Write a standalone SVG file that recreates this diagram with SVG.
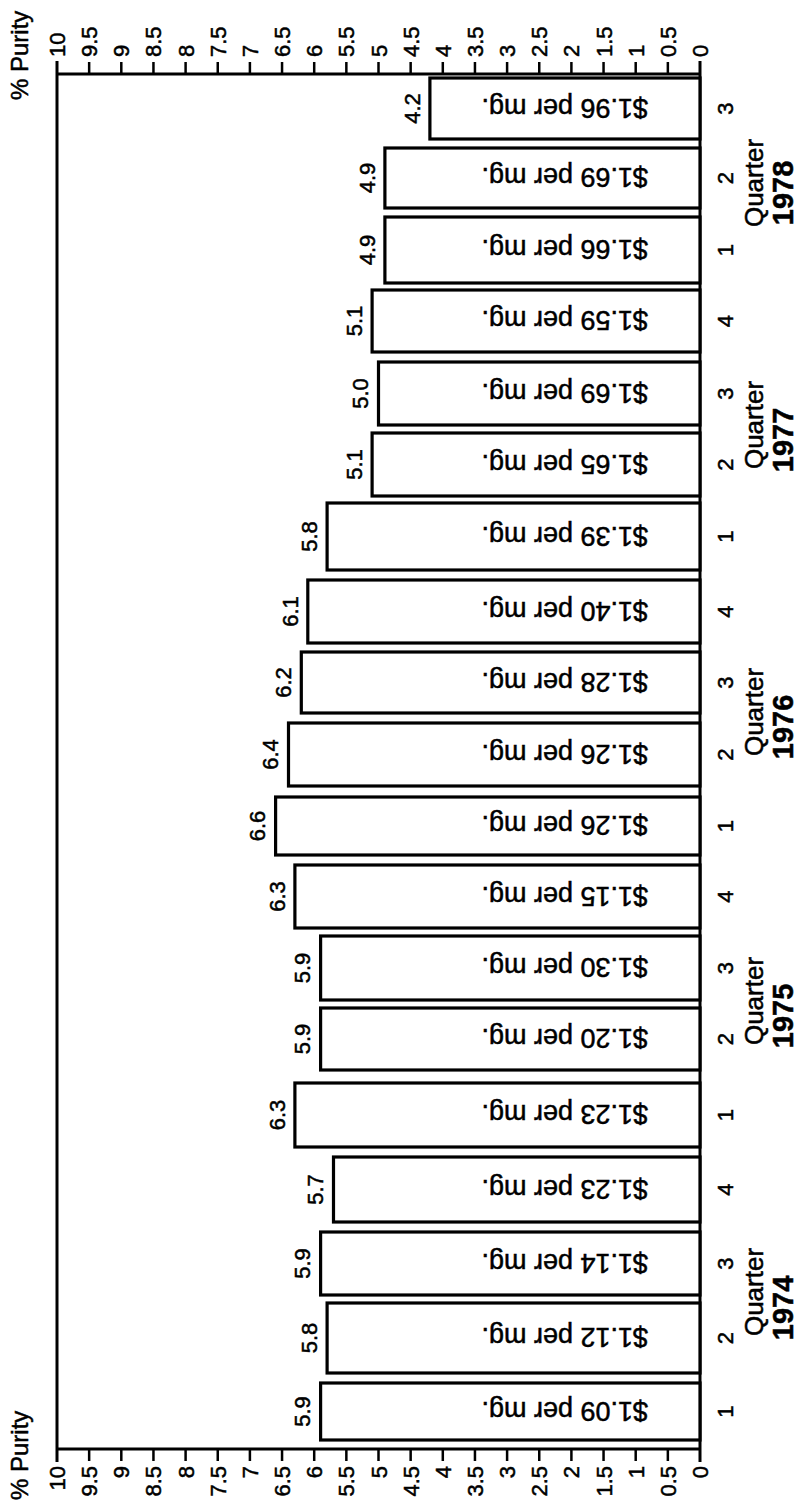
<svg xmlns="http://www.w3.org/2000/svg" width="804" height="1507" viewBox="0 0 804 1507">
<style>
.ax{stroke:#000;stroke-width:3;fill:none}
.tk{stroke:#000;stroke-width:2.5}
.bar{fill:#fff;stroke:#000;stroke-width:3.2}
text{font-family:"Liberation Sans",Arial,Helvetica,sans-serif;fill:#000;stroke:#000;stroke-width:0.5}
.tl{font-size:22px}
.vl{font-size:22px;text-anchor:middle}
.ql{font-size:22px;text-anchor:middle}
.pl{font-size:27px}
.qt{font-size:26px;text-anchor:middle}
.yr{font-size:29px;font-weight:bold;text-anchor:middle}
.pu{font-size:24px}
</style>
<rect width="804" height="1507" fill="#fff"/>
<g id="axes">
<line class="ax" x1="57" y1="74" x2="700" y2="74"/>
<line class="ax" x1="57" y1="1449" x2="700" y2="1449"/>
<line class="ax" x1="57" y1="61" x2="57" y2="1462"/>
<line class="ax" x1="700" y1="61" x2="700" y2="1462"/>
<g id="ticks">
<line class="tk" x1="89.15" y1="62" x2="89.15" y2="74"/><line class="tk" x1="121.3" y1="62" x2="121.3" y2="74"/><line class="tk" x1="153.45" y1="62" x2="153.45" y2="74"/><line class="tk" x1="185.6" y1="62" x2="185.6" y2="74"/><line class="tk" x1="217.75" y1="62" x2="217.75" y2="74"/><line class="tk" x1="249.9" y1="62" x2="249.9" y2="74"/><line class="tk" x1="282.05" y1="62" x2="282.05" y2="74"/><line class="tk" x1="314.2" y1="62" x2="314.2" y2="74"/><line class="tk" x1="346.35" y1="62" x2="346.35" y2="74"/><line class="tk" x1="378.5" y1="62" x2="378.5" y2="74"/><line class="tk" x1="410.65" y1="62" x2="410.65" y2="74"/><line class="tk" x1="442.8" y1="62" x2="442.8" y2="74"/><line class="tk" x1="474.95" y1="62" x2="474.95" y2="74"/><line class="tk" x1="507.1" y1="62" x2="507.1" y2="74"/><line class="tk" x1="539.25" y1="62" x2="539.25" y2="74"/><line class="tk" x1="571.4" y1="62" x2="571.4" y2="74"/><line class="tk" x1="603.55" y1="62" x2="603.55" y2="74"/><line class="tk" x1="635.7" y1="62" x2="635.7" y2="74"/><line class="tk" x1="667.85" y1="62" x2="667.85" y2="74"/>
<line class="tk" x1="89.15" y1="1449" x2="89.15" y2="1461"/><line class="tk" x1="121.3" y1="1449" x2="121.3" y2="1461"/><line class="tk" x1="153.45" y1="1449" x2="153.45" y2="1461"/><line class="tk" x1="185.6" y1="1449" x2="185.6" y2="1461"/><line class="tk" x1="217.75" y1="1449" x2="217.75" y2="1461"/><line class="tk" x1="249.9" y1="1449" x2="249.9" y2="1461"/><line class="tk" x1="282.05" y1="1449" x2="282.05" y2="1461"/><line class="tk" x1="314.2" y1="1449" x2="314.2" y2="1461"/><line class="tk" x1="346.35" y1="1449" x2="346.35" y2="1461"/><line class="tk" x1="378.5" y1="1449" x2="378.5" y2="1461"/><line class="tk" x1="410.65" y1="1449" x2="410.65" y2="1461"/><line class="tk" x1="442.8" y1="1449" x2="442.8" y2="1461"/><line class="tk" x1="474.95" y1="1449" x2="474.95" y2="1461"/><line class="tk" x1="507.1" y1="1449" x2="507.1" y2="1461"/><line class="tk" x1="539.25" y1="1449" x2="539.25" y2="1461"/><line class="tk" x1="571.4" y1="1449" x2="571.4" y2="1461"/><line class="tk" x1="603.55" y1="1449" x2="603.55" y2="1461"/><line class="tk" x1="635.7" y1="1449" x2="635.7" y2="1461"/><line class="tk" x1="667.85" y1="1449" x2="667.85" y2="1461"/>
</g>
<g id="top-labels" class="tl">
<text transform="translate(65,57) rotate(-90)">10</text>
<text transform="translate(97.15,57) rotate(-90)">9.5</text>
<text transform="translate(129.3,57) rotate(-90)">9</text>
<text transform="translate(161.45,57) rotate(-90)">8.5</text>
<text transform="translate(193.6,57) rotate(-90)">8</text>
<text transform="translate(225.75,57) rotate(-90)">7.5</text>
<text transform="translate(257.9,57) rotate(-90)">7</text>
<text transform="translate(290.05,57) rotate(-90)">6.5</text>
<text transform="translate(322.2,57) rotate(-90)">6</text>
<text transform="translate(354.35,57) rotate(-90)">5.5</text>
<text transform="translate(386.5,57) rotate(-90)">5</text>
<text transform="translate(418.65,57) rotate(-90)">4.5</text>
<text transform="translate(450.8,57) rotate(-90)">4</text>
<text transform="translate(482.95,57) rotate(-90)">3.5</text>
<text transform="translate(515.1,57) rotate(-90)">3</text>
<text transform="translate(547.25,57) rotate(-90)">2.5</text>
<text transform="translate(579.4,57) rotate(-90)">2</text>
<text transform="translate(611.55,57) rotate(-90)">1.5</text>
<text transform="translate(643.7,57) rotate(-90)">1</text>
<text transform="translate(675.85,57) rotate(-90)">0.5</text>
<text transform="translate(708,57) rotate(-90)">0</text>
</g>
<g id="bottom-labels" class="tl" text-anchor="end">
<text transform="translate(65,1466) rotate(-90)">10</text>
<text transform="translate(97.15,1466) rotate(-90)">9.5</text>
<text transform="translate(129.3,1466) rotate(-90)">9</text>
<text transform="translate(161.45,1466) rotate(-90)">8.5</text>
<text transform="translate(193.6,1466) rotate(-90)">8</text>
<text transform="translate(225.75,1466) rotate(-90)">7.5</text>
<text transform="translate(257.9,1466) rotate(-90)">7</text>
<text transform="translate(290.05,1466) rotate(-90)">6.5</text>
<text transform="translate(322.2,1466) rotate(-90)">6</text>
<text transform="translate(354.35,1466) rotate(-90)">5.5</text>
<text transform="translate(386.5,1466) rotate(-90)">5</text>
<text transform="translate(418.65,1466) rotate(-90)">4.5</text>
<text transform="translate(450.8,1466) rotate(-90)">4</text>
<text transform="translate(482.95,1466) rotate(-90)">3.5</text>
<text transform="translate(515.1,1466) rotate(-90)">3</text>
<text transform="translate(547.25,1466) rotate(-90)">2.5</text>
<text transform="translate(579.4,1466) rotate(-90)">2</text>
<text transform="translate(611.55,1466) rotate(-90)">1.5</text>
<text transform="translate(643.7,1466) rotate(-90)">1</text>
<text transform="translate(675.85,1466) rotate(-90)">0.5</text>
<text transform="translate(708,1466) rotate(-90)">0</text>
</g>
<text class="pu" transform="translate(28,100) rotate(-90)">% Purity</text>
<text class="pu" transform="translate(28,1500) rotate(-90)">% Purity</text>
</g>
<g id="bars">
<g id="b1974q1"><rect class="bar" x="320.6" y="1383" width="379.4" height="57"/><text class="vl" transform="translate(310,1411.5) rotate(-90)">5.9</text><text class="pl" transform="translate(648,1401.5) rotate(180)">$1.09 per mg.</text><text class="ql" transform="translate(733,1411.5) rotate(-90)">1</text></g>
<g id="b1974q2"><rect class="bar" x="327.1" y="1303" width="372.9" height="70"/><text class="vl" transform="translate(316.5,1338) rotate(-90)">5.8</text><text class="pl" transform="translate(648,1328) rotate(180)">$1.12 per mg.</text><text class="ql" transform="translate(733,1338) rotate(-90)">2</text></g>
<g id="b1974q3"><rect class="bar" x="320.6" y="1232" width="379.4" height="63"/><text class="vl" transform="translate(310,1263.5) rotate(-90)">5.9</text><text class="pl" transform="translate(648,1253.5) rotate(180)">$1.14 per mg.</text><text class="ql" transform="translate(733,1263.5) rotate(-90)">3</text></g>
<g id="b1974q4"><rect class="bar" x="333.5" y="1157" width="366.5" height="65"/><text class="vl" transform="translate(323,1189.5) rotate(-90)">5.7</text><text class="pl" transform="translate(648,1179.5) rotate(180)">$1.23 per mg.</text><text class="ql" transform="translate(733,1189.5) rotate(-90)">4</text></g>
<g id="b1975q1"><rect class="bar" x="294.9" y="1083" width="405.1" height="64"/><text class="vl" transform="translate(284.5,1115) rotate(-90)">6.3</text><text class="pl" transform="translate(648,1105) rotate(180)">$1.23 per mg.</text><text class="ql" transform="translate(733,1115) rotate(-90)">1</text></g>
<g id="b1975q2"><rect class="bar" x="320.6" y="1008" width="379.4" height="62"/><text class="vl" transform="translate(310,1039) rotate(-90)">5.9</text><text class="pl" transform="translate(648,1029) rotate(180)">$1.20 per mg.</text><text class="ql" transform="translate(733,1039) rotate(-90)">2</text></g>
<g id="b1975q3"><rect class="bar" x="320.6" y="936" width="379.4" height="64"/><text class="vl" transform="translate(310,968) rotate(-90)">5.9</text><text class="pl" transform="translate(648,958) rotate(180)">$1.30 per mg.</text><text class="ql" transform="translate(733,968) rotate(-90)">3</text></g>
<g id="b1975q4"><rect class="bar" x="294.9" y="865" width="405.1" height="63"/><text class="vl" transform="translate(284.5,896.5) rotate(-90)">6.3</text><text class="pl" transform="translate(648,886.5) rotate(180)">$1.15 per mg.</text><text class="ql" transform="translate(733,896.5) rotate(-90)">4</text></g>
<g id="b1976q1"><rect class="bar" x="275.6" y="797" width="424.4" height="58"/><text class="vl" transform="translate(265,826) rotate(-90)">6.6</text><text class="pl" transform="translate(648,816) rotate(180)">$1.26 per mg.</text><text class="ql" transform="translate(733,826) rotate(-90)">1</text></g>
<g id="b1976q2"><rect class="bar" x="288.5" y="723" width="411.5" height="63"/><text class="vl" transform="translate(278,754.5) rotate(-90)">6.4</text><text class="pl" transform="translate(648,744.5) rotate(180)">$1.26 per mg.</text><text class="ql" transform="translate(733,754.5) rotate(-90)">2</text></g>
<g id="b1976q3"><rect class="bar" x="301.3" y="652" width="398.7" height="61"/><text class="vl" transform="translate(291,682.5) rotate(-90)">6.2</text><text class="pl" transform="translate(648,672.5) rotate(180)">$1.28 per mg.</text><text class="ql" transform="translate(733,682.5) rotate(-90)">3</text></g>
<g id="b1976q4"><rect class="bar" x="307.8" y="580" width="392.2" height="63"/><text class="vl" transform="translate(297.5,611.5) rotate(-90)">6.1</text><text class="pl" transform="translate(648,601.5) rotate(180)">$1.40 per mg.</text><text class="ql" transform="translate(733,611.5) rotate(-90)">4</text></g>
<g id="b1977q1"><rect class="bar" x="327.1" y="503" width="372.9" height="67"/><text class="vl" transform="translate(316.5,536.5) rotate(-90)">5.8</text><text class="pl" transform="translate(648,526.5) rotate(180)">$1.39 per mg.</text><text class="ql" transform="translate(733,536.5) rotate(-90)">1</text></g>
<g id="b1977q2"><rect class="bar" x="372.1" y="433" width="327.9" height="63"/><text class="vl" transform="translate(361.5,464.5) rotate(-90)">5.1</text><text class="pl" transform="translate(648,454.5) rotate(180)">$1.65 per mg.</text><text class="ql" transform="translate(733,464.5) rotate(-90)">2</text></g>
<g id="b1977q3"><rect class="bar" x="378.5" y="362" width="321.5" height="63"/><text class="vl" transform="translate(368,393.5) rotate(-90)">5.0</text><text class="pl" transform="translate(648,383.5) rotate(180)">$1.69 per mg.</text><text class="ql" transform="translate(733,393.5) rotate(-90)">3</text></g>
<g id="b1977q4"><rect class="bar" x="372.1" y="290" width="327.9" height="62"/><text class="vl" transform="translate(361.5,321) rotate(-90)">5.1</text><text class="pl" transform="translate(648,311) rotate(180)">$1.59 per mg.</text><text class="ql" transform="translate(733,321) rotate(-90)">4</text></g>
<g id="b1978q1"><rect class="bar" x="384.9" y="217" width="315.1" height="66"/><text class="vl" transform="translate(374.5,250) rotate(-90)">4.9</text><text class="pl" transform="translate(648,240) rotate(180)">$1.66 per mg.</text><text class="ql" transform="translate(733,250) rotate(-90)">1</text></g>
<g id="b1978q2"><rect class="bar" x="384.9" y="148" width="315.1" height="60"/><text class="vl" transform="translate(374.5,178) rotate(-90)">4.9</text><text class="pl" transform="translate(648,168) rotate(180)">$1.69 per mg.</text><text class="ql" transform="translate(733,178) rotate(-90)">2</text></g>
<g id="b1978q3"><rect class="bar" x="429.9" y="78" width="270.1" height="61"/><text class="vl" transform="translate(419.5,108.5) rotate(-90)">4.2</text><text class="pl" transform="translate(648,98.5) rotate(180)">$1.96 per mg.</text><text class="ql" transform="translate(733,108.5) rotate(-90)">3</text></g>
</g>
<g id="years">
<g id="y1974"><text class="qt" transform="translate(763,1292) rotate(-90)">Quarter</text><text class="yr" transform="translate(793,1308) rotate(-90)">1974</text></g>
<g id="y1975"><text class="qt" transform="translate(763,1001) rotate(-90)">Quarter</text><text class="yr" transform="translate(793,1016) rotate(-90)">1975</text></g>
<g id="y1976"><text class="qt" transform="translate(763,712) rotate(-90)">Quarter</text><text class="yr" transform="translate(793,727) rotate(-90)">1976</text></g>
<g id="y1977"><text class="qt" transform="translate(763,425) rotate(-90)">Quarter</text><text class="yr" transform="translate(793,440) rotate(-90)">1977</text></g>
<g id="y1978"><text class="qt" transform="translate(763,183) rotate(-90)">Quarter</text><text class="yr" transform="translate(793,193) rotate(-90)">1978</text></g>
</g>
</svg>
